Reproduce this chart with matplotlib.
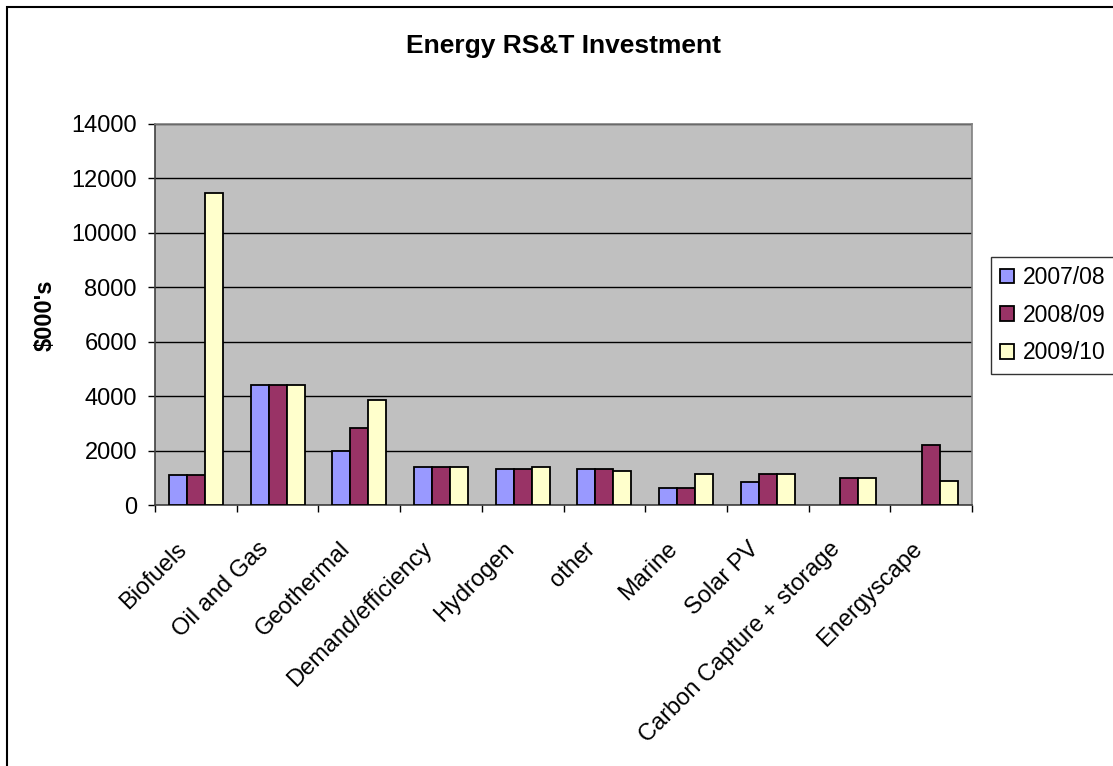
import numpy as np
import matplotlib.pyplot as plt
from matplotlib.patches import Rectangle
from matplotlib.transforms import ScaledTranslation, blended_transform_factory

plt.rcParams['font.family'] = ['Liberation Sans', 'DejaVu Sans']

categories = ['Biofuels', 'Oil and Gas', 'Geothermal', 'Demand/efficiency', 'Hydrogen',
              'other', 'Marine', 'Solar PV', 'Carbon Capture + storage', 'Energyscape']
years = ['2007/08', '2008/09', '2009/10']

# $000's per year; None where there was no spend that year
inv_0708 = [1100, 4400, 2000, 1380, 1320, 1320, 630, 830, None, None]
inv_0809 = [1100, 4400, 2840, 1380, 1320, 1320, 630, 1130, 1010, 2210]
inv_0910 = [11450, 4400, 3850, 1380, 1390, 1260, 1130, 1130, 1010, 890]

colors = ['#9999FF', '#993366', '#FFFFCC']
yticks = [0, 2000, 4000, 6000, 8000, 10000, 12000, 14000]

fig = plt.figure(figsize=(11.13, 7.66), dpi=100)
ax = fig.add_axes([155 / 1113, 1 - 505 / 766, (972 - 155) / 1113, (505 - 124) / 766])
ax.set_facecolor('#C0C0C0')

x = np.arange(len(categories))
w = 0.22
series = [inv_0708, inv_0809, inv_0910]
for i, (vals, col, lab) in enumerate(zip(series, colors, years)):
    h = np.array([np.nan if v is None else v for v in vals], dtype=float)
    ax.bar(x + (i - 1) * w, h, width=w, color=col, edgecolor='black',
           linewidth=1.3, label=lab, zorder=3)

ax.set_xlim(-0.5, len(categories) - 0.5)
ax.set_ylim(0, 14000)
ax.set_yticks(yticks)
ax.set_yticklabels([str(t) for t in yticks], fontsize=17)
ax.yaxis.grid(True, color='black', linewidth=1.0, zorder=1)
ax.set_axisbelow(True)

# ticks sit between categories
ax.set_xticks(np.arange(len(categories) + 1) - 0.5)
ax.set_xticklabels([])
ax.tick_params(axis='x', length=5, width=1, color='black', direction='out')
ax.tick_params(axis='y', length=5, width=1, color='black', direction='out', pad=8)

# slanted category names, end of text just left of each group centre
lbl_trans = blended_transform_factory(ax.transData, ax.transAxes) + \
    ScaledTranslation(-20 / 100, -33 / 100, fig.dpi_scale_trans)
for xi, name in zip(x, categories):
    ax.text(xi, 0, name, transform=lbl_trans, rotation=45, ha='right', va='top',
            rotation_mode='anchor', fontsize=17, clip_on=False)

for side in ['left', 'bottom']:
    ax.spines[side].set_color('#404040')
    ax.spines[side].set_linewidth(1.2)
for side in ['top', 'right']:
    ax.spines[side].set_color('#808080')
    ax.spines[side].set_linewidth(1.2)

fig.text(45 / 1113, 1 - 315 / 766, "$000's", rotation=90, ha='center', va='center',
         fontsize=17, fontweight='bold')

fig.text(564 / 1113, 1 - 46 / 766, 'Energy RS&T Investment', ha='center', va='center',
         fontsize=19, fontweight='bold')

leg = fig.legend(loc='upper left', bbox_to_anchor=(991 / 1113, 1 - 257 / 766),
                 fontsize=16.5, frameon=True, fancybox=False, edgecolor='black',
                 handlelength=0.6, handleheight=0.6, handletextpad=0.4,
                 labelspacing=0.64, borderpad=0.4, borderaxespad=0)
leg.get_frame().set_linewidth(1.0)

# chart area border
fig.patches.append(Rectangle((7 / 1113, -0.1), 1.2, 1 - 7 / 766 + 0.1,
                             transform=fig.transFigure, fill=False,
                             edgecolor='black', linewidth=1.5))

fig.savefig('out.png', dpi=100)
